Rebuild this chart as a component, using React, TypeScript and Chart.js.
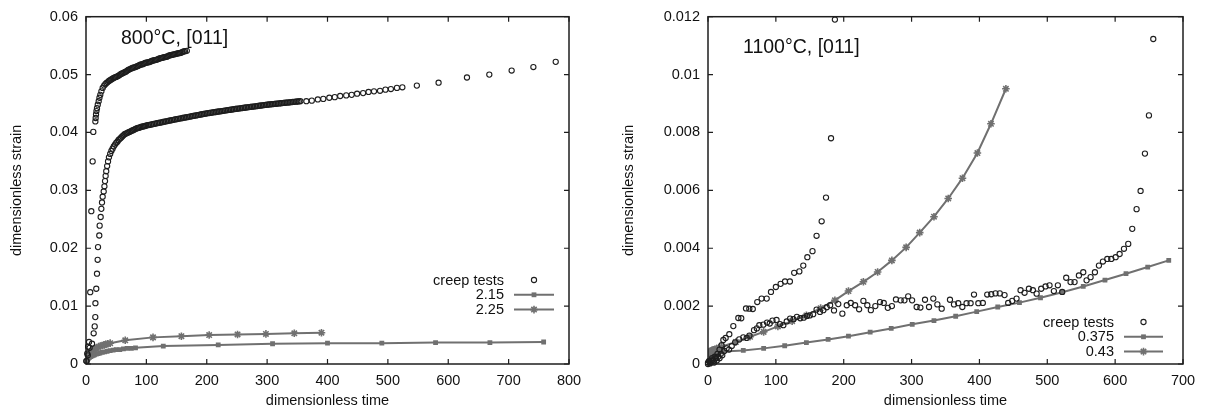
import React, { useEffect, useRef } from "react";
import { Chart, registerables } from "chart.js";
Chart.register(...registerables);

const FONT = '"Liberation Sans", Arial, Helvetica, sans-serif';
const GRAY = "rgb(112,112,112)";
const INK = "#1e1e1e";

// ---------------- Left panel: 800°C, [011] ----------------
const leftNote = "800°C, [011]";
const leftXTicks = ["0", "100", "200", "300", "400", "500", "600", "700", "800"];
const leftYTicks = ["0", "0.01", "0.02", "0.03", "0.04", "0.05", "0.06"];
const leftLegend = ["creep tests", "2.15", "2.25"];

const leftCreepFast: [number, number][] = [
  [0.5, 0.0005], [2, 0.0018], [3.5, 0.003], [5, 0.0038], [7, 0.0124], [8.8, 0.0264], [11, 0.035], [12.1, 0.0401],
  [15.5, 0.0419], [16, 0.0425], [16.6, 0.0431], [17.3, 0.0437], [18.2, 0.0442], [19.5, 0.0448], [21, 0.0454],
  [22.3, 0.046], [23.7, 0.0465], [25.5, 0.0471], [27.6, 0.0477],
  [30, 0.0481], [32, 0.04835], [34, 0.04855], [36, 0.0487], [38, 0.0489], [40, 0.04903], [42, 0.04917],
  [44, 0.0493], [46, 0.04943], [48, 0.04953], [50, 0.0496], [52, 0.0497], [54, 0.0498], [56, 0.04995],
  [58, 0.0501], [60, 0.0502], [62, 0.0503], [64, 0.0504], [66, 0.0505], [68, 0.05065], [70, 0.0508], [72, 0.0509],
  [74, 0.051], [76, 0.0511], [78, 0.0512], [80, 0.05125], [82, 0.0513], [84, 0.0514], [86, 0.0515], [88, 0.0516],
  [90, 0.0517], [92, 0.05175], [94, 0.0518], [96, 0.0519], [98, 0.052], [100, 0.05205], [102, 0.0521],
  [104, 0.05215], [106, 0.0522], [108, 0.0523], [110, 0.0524], [112, 0.05245], [114, 0.0525], [116, 0.05255],
  [118, 0.0526], [120, 0.0527], [122, 0.0528], [124, 0.05285], [126, 0.0529], [128, 0.05295], [130, 0.053],
  [132, 0.05305], [134, 0.0531], [136, 0.0532], [138, 0.0533], [140, 0.05335], [142, 0.0534], [144, 0.05345],
  [146, 0.0535], [148, 0.05355], [150, 0.0536], [152, 0.05365], [154, 0.0537], [156, 0.05375], [158, 0.0538],
  [160, 0.0539], [162, 0.054], [164, 0.05405], [167, 0.0541],
];

const leftCreepSlow: [number, number][] = [
  [1, 0.0005], [3, 0.0015], [6, 0.0028], [10, 0.0035], [12.7, 0.0053], [14.4, 0.0065], [15.4, 0.0081],
  [15.6, 0.0105], [17, 0.013], [18.2, 0.0156], [19.3, 0.018], [19.9, 0.0202], [22, 0.0222], [22.6, 0.0239],
  [24.3, 0.0254], [25.4, 0.0268], [26.5, 0.0279], [27.6, 0.0289], [29.3, 0.0298], [30.5, 0.0307], [31.5, 0.0316],
  [32.5, 0.0325], [33.5, 0.0333], [35, 0.0342], [36.5, 0.035], [38, 0.0357],
  [40, 0.0363], [42, 0.0368], [44, 0.0372], [46, 0.0376], [48, 0.0379], [50, 0.0382], [52, 0.0384], [54, 0.0387],
  [56, 0.0389], [58, 0.0391], [60, 0.0393], [62, 0.0395], [64, 0.0397], [66, 0.0398], [68, 0.0399], [70, 0.04],
  [72, 0.0401], [74, 0.0402], [76, 0.0403], [78, 0.0404], [80, 0.0405], [82, 0.0406], [84, 0.0407], [86, 0.0408],
  [88, 0.0408], [90, 0.0409], [92, 0.041], [94, 0.041], [96, 0.0411], [98, 0.0411],
  [100, 0.0412], [102.5, 0.04126], [105, 0.04131], [107.5, 0.04137], [110, 0.04142], [112.5, 0.04148],
  [115, 0.04153], [117.5, 0.04159], [120, 0.04164], [122.5, 0.0417], [125, 0.04175], [127.5, 0.04181],
  [130, 0.04186], [132.5, 0.04192], [135, 0.04197], [137.5, 0.04203], [140, 0.04208], [142.5, 0.04214],
  [145, 0.04219], [147.5, 0.04225], [150, 0.0423], [152.5, 0.04235], [155, 0.0424], [157.5, 0.04245],
  [160, 0.0425], [162.5, 0.04255], [165, 0.0426], [167.5, 0.04265], [170, 0.0427], [172.5, 0.04275],
  [175, 0.0428], [177.5, 0.04285], [180, 0.0429], [182.5, 0.04295], [185, 0.043], [187.5, 0.04305],
  [190, 0.0431], [192.5, 0.04315], [195, 0.0432], [197.5, 0.04325], [200, 0.0433], [202.5, 0.04334],
  [205, 0.04338], [207.5, 0.04342], [210, 0.04346], [212.5, 0.0435], [215, 0.04354], [217.5, 0.04358],
  [220, 0.04362], [222.5, 0.04366], [225, 0.0437], [227.5, 0.04374], [230, 0.04378], [232.5, 0.04382],
  [235, 0.04386], [237.5, 0.0439], [240, 0.04394], [242.5, 0.04398], [245, 0.04402], [247.5, 0.04406],
  [250, 0.0441], [252.5, 0.04413], [255, 0.04417], [257.5, 0.0442], [260, 0.04424], [262.5, 0.04427],
  [265, 0.04431], [267.5, 0.04434], [270, 0.04438], [272.5, 0.04441], [275, 0.04445], [277.5, 0.04448],
  [280, 0.04452], [282.5, 0.04455], [285, 0.04459], [287.5, 0.04462], [290, 0.04466], [292.5, 0.04469],
  [295, 0.04473], [297.5, 0.04476], [300, 0.0448], [302.5, 0.04483], [305, 0.04485], [307.5, 0.04488],
  [310, 0.04491], [312.5, 0.04494], [315, 0.04496], [317.5, 0.04499], [320, 0.04502], [322.5, 0.04505],
  [325, 0.04507], [327.5, 0.0451], [330, 0.04513], [332.5, 0.04516], [335, 0.04518], [337.5, 0.04521],
  [340, 0.04524], [342.5, 0.04527], [345, 0.04529], [347.5, 0.04532], [350, 0.04535], [352.5, 0.04537],
  [355, 0.0454],
  [365, 0.0454], [374, 0.0455], [384, 0.0457], [393, 0.0458], [403, 0.046], [412, 0.0461], [421, 0.0463],
  [431, 0.0464], [440, 0.0465], [449, 0.0467], [459, 0.0468], [468, 0.047], [477, 0.0471], [487, 0.0472],
  [496, 0.0474], [505, 0.0475], [515, 0.0477], [524, 0.0478],
  [548, 0.0481], [584, 0.0486], [631, 0.0495], [668, 0.05], [705, 0.0507], [741, 0.0513], [778, 0.0522],
];

const leftModel215: [number, number][] = [
  [0, 0], [0.5, 0.0004], [1, 0.0006], [2, 0.0008], [3, 0.0009], [4, 0.001], [5, 0.0011], [6, 0.0012], [8, 0.0013],
  [10, 0.0014], [12, 0.0015], [14, 0.0016], [17, 0.0017], [20, 0.0018], [23, 0.0019], [27, 0.002], [31, 0.0021],
  [35, 0.0022], [40, 0.0023], [45, 0.0024], [50, 0.0025], [56, 0.0025], [62, 0.0026], [68, 0.0027], [75, 0.0027],
  [82, 0.0028], [128, 0.0031], [219, 0.0033], [309, 0.0035], [400, 0.0036], [490, 0.0036], [579, 0.0037],
  [669, 0.0037], [758, 0.0038],
];

const leftModel225: [number, number][] = [
  [0, 0], [0.5, 0.0006], [1, 0.0009], [2, 0.0012], [3, 0.0014], [4, 0.0016], [5, 0.0018], [6, 0.0019], [7, 0.002],
  [8, 0.0021], [10, 0.0023], [12, 0.0025], [14, 0.0026], [16, 0.0027], [18, 0.0028], [21, 0.003], [24, 0.0031],
  [27, 0.0032], [30, 0.0033], [33, 0.0034], [36, 0.0035], [40, 0.0036], [65, 0.0041], [111, 0.0046], [158, 0.0048],
  [204, 0.005], [251, 0.0051], [298, 0.0052], [345, 0.0053], [390, 0.0054],
];

// ---------------- Right panel: 1100°C, [011] ----------------
const rightNote = "1100°C, [011]";
const rightXTicks = ["0", "100", "200", "300", "400", "500", "600", "700"];
const rightYTicks = ["0", "0.002", "0.004", "0.006", "0.008", "0.01", "0.012"];
const rightLegend = ["creep tests", "0.375", "0.43"];

const rightCreepFast: [number, number][] = [
  [0, 0], [2, 0.0001], [4, 0.00005], [6, 0.0002], [8, 0.0001], [10, 0.00025], [12, 0.0002], [14, 0.00035],
  [17, 0.0005], [20, 0.00065], [22.6, 0.00083], [26, 0.0009], [31.4, 0.00103], [37.3, 0.00131], [44.7, 0.00159],
  [49, 0.00158], [56, 0.00192], [60.9, 0.00191], [66, 0.0019], [72.6, 0.00214], [79, 0.00226], [86.5, 0.00226],
  [92.8, 0.00249], [100, 0.00266], [107, 0.00277], [113.5, 0.00285], [120.7, 0.00285], [127, 0.00315],
  [134.6, 0.0032], [140.4, 0.0034], [146.4, 0.00369], [154, 0.0039], [160, 0.00443], [167.5, 0.00493],
  [173.9, 0.00575], [181.3, 0.0078], [187, 0.0119],
];

const rightCreepSlow: [number, number][] = [
  [0, 0.00005], [1.5, 0.0001], [3, 0.00002], [5, 0.0001], [7, 0.00015], [9, 0.00005], [11, 0.0002], [13, 0.00012],
  [15, 0.00025], [17, 0.0002], [19, 0.00035], [21, 0.0003], [24, 0.00045], [27.5, 0.00054], [31, 0.0005],
  [35, 0.00062], [40, 0.00075], [46, 0.00085], [52, 0.00092], [57, 0.0009], [61, 0.00098], [67.8, 0.00117],
  [72, 0.00123], [75.6, 0.00134], [81.5, 0.00136], [87, 0.00143], [91, 0.0014], [95, 0.0015], [101, 0.00152],
  [106, 0.00138], [111, 0.00134], [116, 0.00147], [121, 0.00157], [126, 0.00155], [131, 0.00163], [136, 0.00158],
  [141, 0.0016], [146, 0.00166], [150, 0.00168], [155, 0.00172], [160, 0.00188], [165, 0.0018], [170, 0.00186],
  [175, 0.00196], [180, 0.00203], [185.7, 0.00185], [192, 0.00207], [198, 0.00174], [204.5, 0.00203],
  [210.4, 0.00211], [216.8, 0.00203], [222.7, 0.00189], [229, 0.00218], [234.8, 0.00203], [240, 0.00186],
  [246.6, 0.002], [253.5, 0.00214], [259, 0.00211], [265, 0.00194], [271, 0.002], [277, 0.00223], [284, 0.0022],
  [289.5, 0.0022], [295, 0.00234], [300.8, 0.0022], [307.5, 0.00197], [313, 0.00195], [319.8, 0.00222],
  [325.7, 0.00197], [332, 0.00226], [338, 0.00206], [344.4, 0.00191], [356.6, 0.00222], [362.5, 0.00206],
  [368.8, 0.0021], [374.8, 0.00197], [381, 0.0021], [387, 0.0021], [392, 0.0024], [398.4, 0.0021], [405, 0.00211],
  [411.5, 0.0024], [417.4, 0.00241], [423.7, 0.00244], [430, 0.00244], [437, 0.00238], [442.4, 0.00211],
  [448.3, 0.00218], [454.7, 0.00226], [460.6, 0.00255], [466.5, 0.00246], [472.9, 0.0026], [478.8, 0.00255],
  [484.3, 0.00243], [491, 0.0026], [497.4, 0.00268], [503.3, 0.00272], [509.7, 0.00252], [515.6, 0.00272],
  [522, 0.00249], [527.9, 0.00298], [534.3, 0.00283], [540.2, 0.00283], [546.6, 0.00306], [553, 0.00317],
  [557.9, 0.00289], [563.8, 0.003], [570.2, 0.00317], [576.1, 0.0034], [582, 0.00354], [588.4, 0.00363],
  [594.3, 0.00363], [600.7, 0.00369], [606.6, 0.0038], [613, 0.00398], [619.3, 0.00415], [625.2, 0.00467],
  [631.6, 0.00535], [637.5, 0.00598], [643.9, 0.00727], [649.8, 0.00859], [656.2, 0.01123],
];

const rightModel0375: [number, number][] = [
  [0, 0.0001], [0.3, 0.00022], [0.7, 0.00028], [1.2, 0.00031], [2, 0.00033], [3, 0.00035], [4.5, 0.00036],
  [6, 0.00037], [8, 0.00038], [10.5, 0.00039], [13, 0.0004], [16, 0.00041], [19, 0.00042], [22.6, 0.00043],
  [52, 0.00047], [82, 0.00054], [113, 0.00063], [145, 0.00074], [177, 0.00085], [207, 0.00096], [239, 0.0011],
  [270, 0.00123], [301, 0.00137], [333, 0.0015], [365, 0.00165], [396, 0.00181], [427, 0.00197], [459, 0.00212],
  [490, 0.00229], [522, 0.00248], [553, 0.00268], [585, 0.0029], [616, 0.00312], [648, 0.00335], [679, 0.00358],
];

const rightModel043: [number, number][] = [
  [0, 0.00012], [0.3, 0.00025], [0.7, 0.00032], [1.2, 0.00036], [2, 0.0004], [3, 0.00043], [4.5, 0.00045],
  [6, 0.00047], [8, 0.00049], [10.5, 0.00051], [13, 0.00053], [16, 0.00056], [20, 0.0006], [41, 0.00076],
  [62, 0.00094], [82, 0.00111], [103, 0.0013], [124, 0.00148], [145, 0.00168], [166, 0.00193], [187, 0.0022],
  [207, 0.00252], [229, 0.00284], [250, 0.00318], [271, 0.00358], [292, 0.00403], [312, 0.00454], [333, 0.00509],
  [354, 0.00572], [375, 0.00642], [397, 0.00729], [417, 0.0083], [439, 0.00951],
];

// ---------------- helpers ----------------
type Pt = [number, number];
const toXY = (arr: Pt[]) => arr.map(([x, y]) => ({ x, y }));

const circleSet = (data: Pt[]) => ({
  data: toXY(data),
  showLine: false,
  pointStyle: "circle",
  pointRadius: 2.6,
  pointBorderWidth: 1.1,
  pointBorderColor: INK,
  pointBackgroundColor: "rgba(255,255,255,0)",
  clip: false as any,
});

const modelSet = (data: Pt[], style: "rect" | "star") => ({
  data: toXY(data),
  showLine: true,
  tension: 0,
  borderColor: GRAY,
  borderWidth: 2,
  pointStyle: style,
  pointRadius: style === "rect" ? 3.4 : 3.8,
  pointBorderWidth: style === "rect" ? 0 : 1.6,
  pointBorderColor: GRAY,
  pointBackgroundColor: GRAY,
});

function drawMarker(ctx: CanvasRenderingContext2D, kind: string, x: number, y: number) {
  ctx.save();
  if (kind === "circle") {
    ctx.strokeStyle = INK;
    ctx.lineWidth = 1.1;
    ctx.beginPath();
    ctx.arc(x, y, 2.6, 0, Math.PI * 2);
    ctx.stroke();
  } else if (kind === "rect") {
    ctx.fillStyle = GRAY;
    ctx.fillRect(x - 2.4, y - 2.4, 4.8, 4.8);
  } else {
    const r = 3.8;
    const d = r * Math.SQRT1_2;
    ctx.strokeStyle = GRAY;
    ctx.lineWidth = 1.6;
    ctx.beginPath();
    ctx.moveTo(x - r, y); ctx.lineTo(x + r, y);
    ctx.moveTo(x, y - r); ctx.lineTo(x, y + r);
    ctx.moveTo(x - d, y - d); ctx.lineTo(x + d, y + d);
    ctx.moveTo(x - d, y + d); ctx.lineTo(x + d, y - d);
    ctx.stroke();
  }
  ctx.restore();
}

type PanelProps = {
  width: number;
  xMax: number;
  yMax: number;
  xStep: number;
  yStep: number;
  xTicks: string[];
  yTicks: string[];
  yAxisWidth: number;
  yTitlePad: number;
  padRight: number;
  note: string;
  noteX: number;
  noteY: number;
  legend: string[];
  legendTextFromRight: number;
  legendLineFromRight: [number, number];
  legendTopFromBottom: number;
  datasets: any[];
};

function Panel(p: PanelProps) {
  const ref = useRef<HTMLCanvasElement | null>(null);
  useEffect(() => {
    if (!ref.current) return;
    const framePlugin = {
      id: "frame",
      afterDraw(chart: any) {
        const { ctx, chartArea: a, scales } = chart;
        ctx.save();
        ctx.strokeStyle = INK;
        ctx.lineWidth = 1.5;
        ctx.strokeRect(a.left, a.top, a.right - a.left, a.bottom - a.top);
        ctx.lineWidth = 1.2;
        const L = 5;
        ctx.beginPath();
        scales.x.ticks.forEach((t: any) => {
          const x = scales.x.getPixelForValue(t.value);
          ctx.moveTo(x, a.bottom); ctx.lineTo(x, a.bottom - L);
          ctx.moveTo(x, a.top); ctx.lineTo(x, a.top + L);
        });
        scales.y.ticks.forEach((t: any) => {
          const y = scales.y.getPixelForValue(t.value);
          ctx.moveTo(a.left, y); ctx.lineTo(a.left + L, y);
          ctx.moveTo(a.right, y); ctx.lineTo(a.right - L, y);
        });
        ctx.stroke();

        // annotation
        ctx.fillStyle = "#111";
        ctx.font = `19.5px ${FONT}`;
        ctx.textAlign = "left";
        ctx.textBaseline = "alphabetic";
        ctx.fillText(p.note, p.noteX, p.noteY);

        // legend
        ctx.font = `14.5px ${FONT}`;
        ctx.textAlign = "right";
        ctx.textBaseline = "middle";
        const kinds = ["circle", "rect", "star"];
        const tx = a.right - p.legendTextFromRight;
        const x1 = a.right - p.legendLineFromRight[0];
        const x2 = a.right - p.legendLineFromRight[1];
        p.legend.forEach((lab, i) => {
          const y = a.bottom - p.legendTopFromBottom + i * 14.8;
          ctx.fillStyle = "#111";
          ctx.fillText(lab, tx, y + 0.5);
          if (i > 0) {
            ctx.strokeStyle = GRAY;
            ctx.lineWidth = 2;
            ctx.beginPath();
            ctx.moveTo(x1, y); ctx.lineTo(x2, y);
            ctx.stroke();
          }
          drawMarker(ctx, kinds[i], (x1 + x2) / 2, y);
        });
        ctx.restore();
      },
    };

    const tickFont = { family: FONT, size: 14.5 };
    const chart = new Chart(ref.current, {
      type: "scatter",
      data: { datasets: p.datasets },
      options: {
        animation: false,
        responsive: false,
        events: [],
        layout: { padding: { left: 0, top: 15, right: p.padRight, bottom: 0 } },
        plugins: { legend: { display: false }, tooltip: { enabled: false } },
        scales: {
          x: {
            type: "linear",
            min: 0,
            max: p.xMax,
            afterFit: (s: any) => { s.height = 48; },
            grid: { display: false, drawTicks: false },
            border: { display: false },
            ticks: {
              stepSize: p.xStep,
              padding: 8,
              color: "#111",
              font: tickFont,
              maxRotation: 0,
              autoSkip: false,
              callback: (_v: any, i: number) => p.xTicks[i],
            },
            title: {
              display: true,
              text: "dimensionless time",
              color: "#111",
              font: tickFont,
              padding: { top: 0, bottom: 2 },
            },
          },
          y: {
            type: "linear",
            min: 0,
            max: p.yMax,
            afterFit: (s: any) => { s.width = p.yAxisWidth; },
            grid: { display: false, drawTicks: false },
            border: { display: false },
            ticks: {
              stepSize: p.yStep,
              padding: 8,
              color: "#111",
              font: tickFont,
              autoSkip: false,
              callback: (_v: any, i: number) => p.yTicks[i],
            },
            title: {
              display: true,
              text: "dimensionless strain",
              color: "#111",
              font: tickFont,
              padding: { top: p.yTitlePad, bottom: 0 },
            },
          },
        },
      } as any,
      plugins: [framePlugin],
    });
    return () => chart.destroy();
  }, []);
  return (
    <canvas
      ref={ref}
      width={p.width}
      height={412}
      style={{ display: "block", width: p.width, height: 412 }}
    />
  );
}

export default function App() {
  return (
    <div style={{ position: "absolute", left: 0, top: 0, width: 1205, height: 412, display: "flex", background: "#fff" }}>
      <Panel
        width={600}
        xMax={800}
        yMax={0.06}
        xStep={100}
        yStep={0.01}
        xTicks={leftXTicks}
        yTicks={leftYTicks}
        yAxisWidth={86}
        yTitlePad={8.5}
        padRight={31}
        note={leftNote}
        noteX={121}
        noteY={44}
        legend={leftLegend}
        legendTextFromRight={65}
        legendLineFromRight={[55, 15]}
        legendTopFromBottom={84}
        datasets={[
          circleSet(leftCreepFast),
          circleSet(leftCreepSlow),
          modelSet(leftModel215, "rect"),
          modelSet(leftModel225, "star"),
        ]}
      />
      <Panel
        width={605}
        xMax={700}
        yMax={0.012}
        xStep={100}
        yStep={0.002}
        xTicks={rightXTicks}
        yTicks={rightYTicks}
        yAxisWidth={108}
        yTitlePad={20.3}
        padRight={22}
        note={rightNote}
        noteX={143}
        noteY={53}
        legend={rightLegend}
        legendTextFromRight={69}
        legendLineFromRight={[59, 20]}
        legendTopFromBottom={42}
        datasets={[
          circleSet(rightCreepFast),
          circleSet(rightCreepSlow),
          modelSet(rightModel0375, "rect"),
          modelSet(rightModel043, "star"),
        ]}
      />
    </div>
  );
}
